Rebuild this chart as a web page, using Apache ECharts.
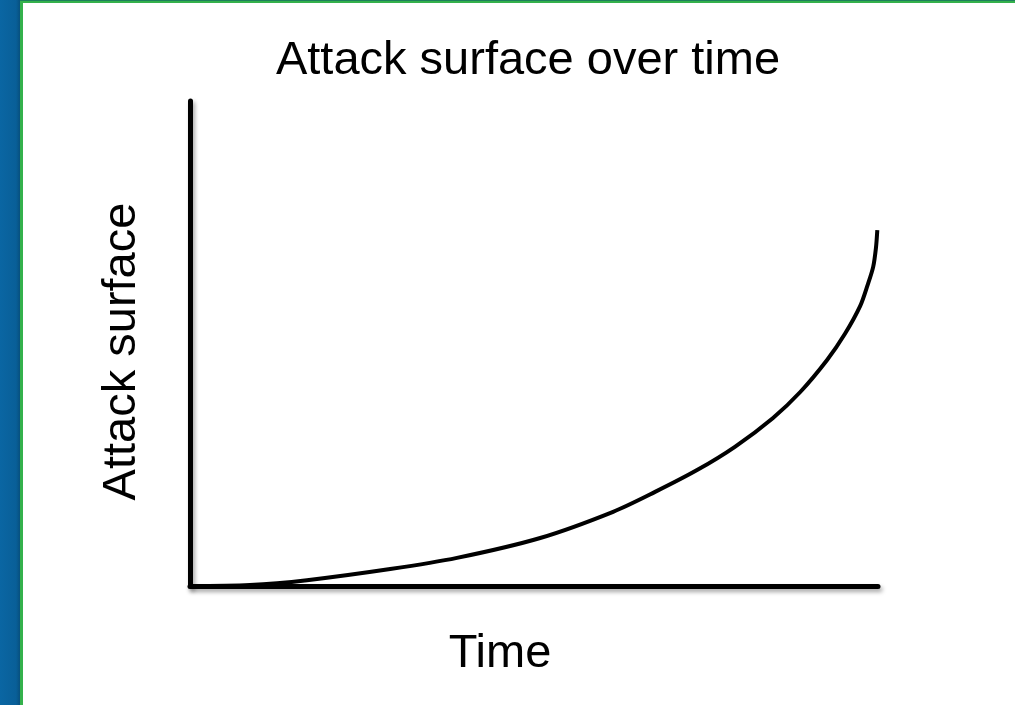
<!DOCTYPE html>
<html>
<head>
<meta charset="utf-8">
<script src="https://cdn.jsdelivr.net/npm/echarts@6/dist/echarts.min.js"></script>
<style>
html,body{margin:0;padding:0;background:#fff;}
#chart{width:1015px;height:705px;}
</style>
</head>
<body>
<div id="chart"></div>
<script>
const titleText = "Attack surface over time";
const xAxisName = "Time";
const yAxisName = "Attack surface";
const timeValues    = [0, 8.7, 17, 29.1, 38.8, 50.9, 61.5, 67.6, 73.7, 79.2, 84.7, 88.7, 92.6, 95.2, 97.4, 98.5, 99.3, 99.7, 99.9];
const surfaceValues = [0, 0.2, 1.2, 3.5, 5.8, 9.9, 15.3, 19.4, 23.9, 28.7, 34.6, 40.0, 46.6, 52.0, 57.7, 62.1, 65.8, 69.7, 73.4];

const chart = echarts.init(document.getElementById('chart'));
const fontFamily = '"Liberation Sans", Arial, sans-serif';
const axisLineStyle = {
  color: '#000', width: 5,
  shadowColor: 'rgba(0,0,0,0.35)', shadowBlur: 4, shadowOffsetX: 2, shadowOffsetY: 3
};
chart.setOption({
  backgroundColor: '#fff',
  animation: false,
  title: {
    text: titleText, left: 523, textAlign: 'center', top: 33,
    textStyle: { fontFamily, fontSize: 47, fontWeight: 'normal', color: '#000' }
  },
  grid: { left: 190, right: 137, top: 101, bottom: 119 },
  xAxis: {
    type: 'value', min: 0, max: 100,
    name: xAxisName, nameLocation: 'middle', nameGap: 45,
    nameTextStyle: { fontFamily, fontSize: 47, color: '#000', padding: [0, 68, 0, 0] },
    axisLine: { onZero: false, lineStyle: axisLineStyle },
    axisTick: { show: false }, axisLabel: { show: false }, splitLine: { show: false }
  },
  yAxis: {
    type: 'value', min: 0, max: 100,
    name: yAxisName, nameLocation: 'middle', nameGap: 44, nameRotate: 90,
    nameTextStyle: { fontFamily, fontSize: 47, color: '#000', padding: [0, 16, 0, 0] },
    axisLine: { show: true, onZero: false, lineStyle: axisLineStyle },
    axisTick: { show: false }, axisLabel: { show: false }, splitLine: { show: false }
  },
  series: [{
    type: 'line',
    data: timeValues.map((t, i) => [t, surfaceValues[i]]),
    smooth: 0.3,
    showSymbol: false,
    lineStyle: { color: '#000', width: 4 },
    z: 3
  }],
  graphic: [
    { type: 'rect', left: 0, top: 0, shape: { width: 20, height: 705 },
      style: { fill: new echarts.graphic.LinearGradient(0, 0, 1, 0, [
        { offset: 0, color: '#0a66a3' }, { offset: 0.8, color: '#095f98' }, { offset: 1, color: '#07507f' }]) }, z: 10 },
    { type: 'rect', left: 20, top: 0, shape: { width: 3, height: 705 },
      style: { fill: '#34b14c' }, z: 10 },
    { type: 'rect', left: 20, top: 0, shape: { width: 995, height: 3 },
      style: { fill: '#34b14c' }, z: 10 },
    { type: 'rect', left: 20, top: 0, shape: { width: 995, height: 1 },
      style: { fill: '#1d7f5a' }, z: 11 }
  ]
});
</script>
</body>
</html>
